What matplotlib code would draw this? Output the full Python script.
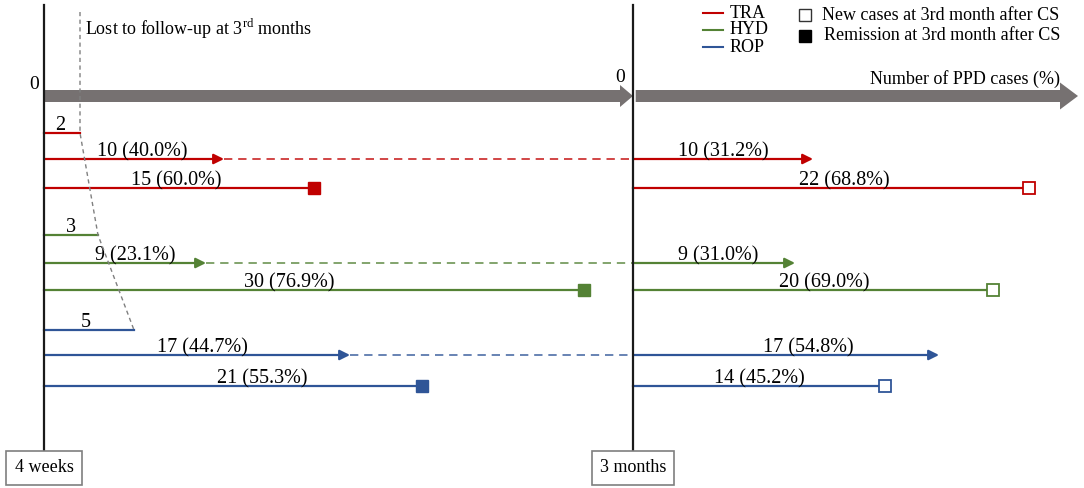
import numpy as np
import matplotlib.pyplot as plt
from matplotlib.patches import FancyArrow

plt.rcParams['font.family'] = ['Liberation Serif', 'DejaVu Serif']
plt.rcParams['mathtext.fontset'] = 'custom'
plt.rcParams['mathtext.rm'] = 'Liberation Serif'

# data
groups = ['TRA', 'HYD', 'ROP']
colors = ['#C00000', '#548235', '#2F5597']

lost_4w = [2, 3, 5]
cont_4w = [10, 9, 17]
cont_4w_pct = [40.0, 23.1, 44.7]
remit_4w = [15, 30, 21]
remit_4w_pct = [60.0, 76.9, 55.3]

cont_3m = [10, 9, 17]
cont_3m_pct = [31.2, 31.0, 54.8]
new_3m = [22, 20, 14]
new_3m_pct = [68.8, 69.0, 45.2]

time_labels = ['4 weeks', '3 months']

# layout (x in cases, y in pixels from top)
px = 18.0                      # pixels per case
x0 = 44.0                      # left axis pixel
x_3m = (633 - x0) / px         # second time axis, in cases
rows_lost = [133, 235, 330]
rows_cont = [159, 263, 355]
rows_end = [188, 290, 386]
axis_y = 96
# hand nudges of the value labels (pixels)
nudge_lost = [-2, 0, -3]
nudge_cont4 = [8, 10, 5]
nudge_remit = [-3, -25, 29]
nudge_cont3 = [0, 4, 22]
nudge_new = [13, 11, 0]

fig = plt.figure(figsize=(10.84, 4.88), dpi=100)
ax = fig.add_axes([0, 0, 1, 1])
ax.set_xlim(-x0 / px, (1084 - x0) / px)
ax.set_ylim(488, 0)
ax.axis('off')

def p2x(p):
    return (p - x0) / px

# big gray axis arrows
gray = '#767171'
ax.add_patch(FancyArrow(0, axis_y, x_3m, 0, width=12, head_width=22, head_length=13 / px,
                        length_includes_head=True, color=gray, lw=0))
ax.add_patch(FancyArrow(x_3m + 0.15, axis_y, p2x(1078) - x_3m - 0.15, 0, width=12, head_width=27,
                        head_length=18 / px, length_includes_head=True, color=gray, lw=0))
ax.text(p2x(34), 89, '0', ha='center', va='baseline', fontsize=14)
ax.text(p2x(620), 82, '0', ha='center', va='baseline', fontsize=14)
ax.text(p2x(1060), 84, 'Number of PPD cases (%)', ha='right', va='baseline', fontsize=13)

# time axes
for xt, lab in zip([0, x_3m], time_labels):
    ax.plot([xt, xt], [5, 452], color='#1a1a1a', lw=1.6, zorder=4)
    ax.text(xt, 468, lab, ha='center', va='center', fontsize=13, zorder=5,
            bbox=dict(boxstyle='square,pad=0.45', fc='white', ec='#7f7f7f', lw=1.2))

def label(xa, xb, y, txt, dx=0):
    ax.text((xa + xb) / 2 + dx / px, y - 3, txt, ha='center', va='baseline', fontsize=14.5)

def arrow(xa, xb, y, c):
    ax.annotate('', xy=(xb, y), xytext=(xa, y),
                arrowprops=dict(arrowstyle='-|>', color=c, lw=1.6, mutation_scale=15,
                                shrinkA=0, shrinkB=0))

for i, c in enumerate(colors):
    # lost to follow-up
    ax.plot([0, lost_4w[i]], [rows_lost[i]] * 2, color=c, lw=1.6)
    label(0, lost_4w[i], rows_lost[i], str(lost_4w[i]), nudge_lost[i])
    # persistent cases (4 weeks -> 3 months)
    arrow(0, cont_4w[i], rows_cont[i], c)
    label(0, cont_4w[i], rows_cont[i], f'{cont_4w[i]} ({cont_4w_pct[i]:.1f}%)', nudge_cont4[i])
    ax.plot([cont_4w[i], x_3m], [rows_cont[i]] * 2, color=c, lw=1.2, alpha=0.85,
            dashes=(5, 3.5))
    arrow(x_3m, x_3m + cont_3m[i], rows_cont[i], c)
    label(x_3m, x_3m + cont_3m[i], rows_cont[i], f'{cont_3m[i]} ({cont_3m_pct[i]:.1f}%)',
          nudge_cont3[i])
    # remission
    ax.plot([0, remit_4w[i]], [rows_end[i]] * 2, color=c, lw=1.6)
    ax.plot(remit_4w[i], rows_end[i], 's', color=c, ms=9, mec=c, zorder=5)
    label(0, remit_4w[i], rows_end[i], f'{remit_4w[i]} ({remit_4w_pct[i]:.1f}%)', nudge_remit[i])
    # new cases
    ax.plot([x_3m, x_3m + new_3m[i]], [rows_end[i]] * 2, color=c, lw=1.6)
    ax.plot(x_3m + new_3m[i], rows_end[i], 's', mfc='white', mec=c, ms=9, mew=1.3, zorder=5)
    label(x_3m, x_3m + new_3m[i], rows_end[i], f'{new_3m[i]} ({new_3m_pct[i]:.1f}%)', nudge_new[i])

# lost to follow-up boundary
lx = [lost_4w[0]] + lost_4w
ly = [12] + rows_lost
ax.plot(lx, ly, color='#808080', lw=1.0, dashes=(3, 2.5), zorder=3)
ax.text(p2x(85), 35, 'Lost to follow-up at 3$^{\\mathrm{rd}}$ months', ha='left',
        va='baseline', fontsize=13)

# legend
for y, g, c in zip([13, 30, 47], groups, colors):
    ax.plot([p2x(703), p2x(723)], [y, y], color=c, lw=1.5)
    ax.text(p2x(730), y, g, ha='left', va='center', fontsize=13)
ax.plot(p2x(805), 15, 's', mfc='white', mec='#333333', ms=8, mew=1.0)
ax.text(p2x(822), 15, 'New cases at 3rd month after CS', ha='left', va='center', fontsize=13)
ax.plot(p2x(805), 36, 's', color='black', ms=8)
ax.text(p2x(824), 36, 'Remission at 3rd month after CS', ha='left', va='center', fontsize=13)

fig.savefig('out.png', dpi=100)
